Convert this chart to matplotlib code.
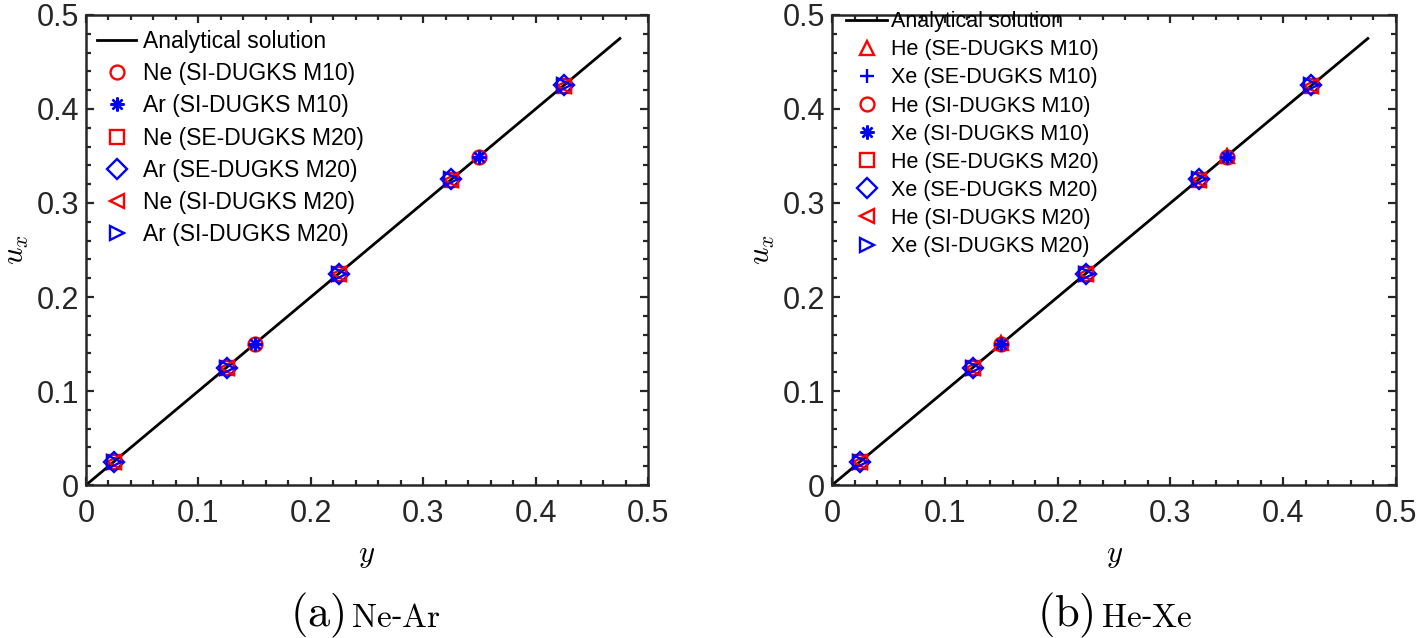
import matplotlib
matplotlib.use("Agg")
import matplotlib.pyplot as plt
from matplotlib.ticker import MultipleLocator

plt.rcParams['font.family'] = ['Liberation Sans', 'DejaVu Sans']
plt.rcParams['mathtext.fontset'] = 'cm'

# analytical solution u_x = y
y_line = [0.0, 0.475]
u_line = [0.0, 0.475]

# M10 sample points and M20 sample points
y_m10 = [0.15, 0.35]
y_m20 = [0.025, 0.125, 0.225, 0.325, 0.425]

# (a) Ne-Ar
ne_si_m10 = [0.150, 0.349]
ar_si_m10 = [0.150, 0.349]
ne_se_m20 = [0.024, 0.124, 0.224, 0.324, 0.424]
ar_se_m20 = [0.025, 0.125, 0.225, 0.325, 0.425]
ne_si_m20 = [0.024, 0.124, 0.224, 0.324, 0.424]
ar_si_m20 = [0.025, 0.125, 0.225, 0.325, 0.425]

# (b) He-Xe
he_se_m10 = [0.151, 0.350]
xe_se_m10 = [0.150, 0.349]
he_si_m10 = [0.150, 0.349]
xe_si_m10 = [0.150, 0.349]
he_se_m20 = [0.024, 0.124, 0.224, 0.324, 0.424]
xe_se_m20 = [0.025, 0.125, 0.225, 0.325, 0.425]
he_si_m20 = [0.024, 0.124, 0.224, 0.324, 0.424]
xe_si_m20 = [0.025, 0.125, 0.225, 0.325, 0.425]

RED = (1, 0, 0)
BLUE = (0, 0, 1)
AST = (8, 2, 0)
ms = 10
mew = 1.7

fig = plt.figure(figsize=(14.17, 6.38), dpi=100)
ax1 = fig.add_axes([0.0607, 0.2398, 0.3966, 0.7367])
ax2 = fig.add_axes([0.5872, 0.2398, 0.3980, 0.7367])


def style(ax):
    ax.set_xlim(0, 0.5)
    ax.set_ylim(0, 0.5)
    ax.xaxis.set_major_locator(MultipleLocator(0.1))
    ax.yaxis.set_major_locator(MultipleLocator(0.1))
    ax.xaxis.set_minor_locator(MultipleLocator(0.02))
    ax.yaxis.set_minor_locator(MultipleLocator(0.02))
    ax.xaxis.set_major_formatter(plt.FuncFormatter(lambda v, p: '0' if v == 0 else '%g' % v))
    ax.yaxis.set_major_formatter(plt.FuncFormatter(lambda v, p: '0' if v == 0 else '%g' % v))
    ax.tick_params(which='both', direction='in', top=True, right=True,
                   colors='#262626', width=1.6, labelcolor='#262626', labelsize=22)
    ax.tick_params(which='major', length=6)
    ax.tick_params(which='minor', length=3.5)
    ax.tick_params(axis='x', pad=10)
    ax.tick_params(axis='y', pad=5)
    for s in ax.spines.values():
        s.set_linewidth(1.8)
        s.set_color('#262626')
    ax.set_xlabel(r'$y$', fontsize=22, labelpad=8)
    ax.set_ylabel(r'$u_x$', fontsize=22, labelpad=4)


def pts(ax, x, y, marker, color, label):
    ax.plot(x, y, linestyle='none', marker=marker, markersize=ms,
            markerfacecolor='none' if marker != AST else color,
            markeredgecolor=color, markeredgewidth=mew, label=label)


ax1.plot(y_line, u_line, color='black', lw=2, label='Analytical solution')
pts(ax1, y_m10, ne_si_m10, 'o', RED, 'Ne (SI-DUGKS M10)')
pts(ax1, y_m10, ar_si_m10, AST, BLUE, 'Ar (SI-DUGKS M10)')
pts(ax1, y_m20, ne_se_m20, 's', RED, 'Ne (SE-DUGKS M20)')
pts(ax1, y_m20, ar_se_m20, 'D', BLUE, 'Ar (SE-DUGKS M20)')
pts(ax1, y_m20, ne_si_m20, '<', RED, 'Ne (SI-DUGKS M20)')
pts(ax1, y_m20, ar_si_m20, '>', BLUE, 'Ar (SI-DUGKS M20)')

ax2.plot(y_line, u_line, color='black', lw=2, label='Analytical solution')
pts(ax2, y_m10, he_se_m10, '^', RED, 'He (SE-DUGKS M10)')
pts(ax2, y_m10, xe_se_m10, '+', BLUE, 'Xe (SE-DUGKS M10)')
pts(ax2, y_m10, he_si_m10, 'o', RED, 'He (SI-DUGKS M10)')
pts(ax2, y_m10, xe_si_m10, AST, BLUE, 'Xe (SI-DUGKS M10)')
pts(ax2, y_m20, he_se_m20, 's', RED, 'He (SE-DUGKS M20)')
pts(ax2, y_m20, xe_se_m20, 'D', BLUE, 'Xe (SE-DUGKS M20)')
pts(ax2, y_m20, he_si_m20, '<', RED, 'He (SI-DUGKS M20)')
pts(ax2, y_m20, xe_si_m20, '>', BLUE, 'Xe (SI-DUGKS M20)')

for ax in (ax1, ax2):
    style(ax)

ax1.legend(loc='upper left', bbox_to_anchor=(0.02, 0.968), frameon=False,
           fontsize=16.5, borderpad=0, borderaxespad=0, labelspacing=0.40,
           handlelength=1.7, handletextpad=0.3)
ax2.legend(loc='upper left', bbox_to_anchor=(0.025, 1.008), frameon=False,
           fontsize=15.5, borderpad=0, borderaxespad=0, labelspacing=0.33,
           handlelength=1.9, handletextpad=0.2)

# captions
fig.text(0.224, 0.018, r'$\mathrm{(a)}$', fontsize=32, ha='center', va='baseline')
fig.text(0.248, 0.018, r'$\mathrm{Ne}$-$\mathrm{Ar}$', fontsize=24, ha='left', va='baseline')
fig.text(0.752, 0.018, r'$\mathrm{(b)}$', fontsize=32, ha='center', va='baseline')
fig.text(0.777, 0.018, r'$\mathrm{He}$-$\mathrm{Xe}$', fontsize=24, ha='left', va='baseline')

fig.savefig('out.png', dpi=100)
